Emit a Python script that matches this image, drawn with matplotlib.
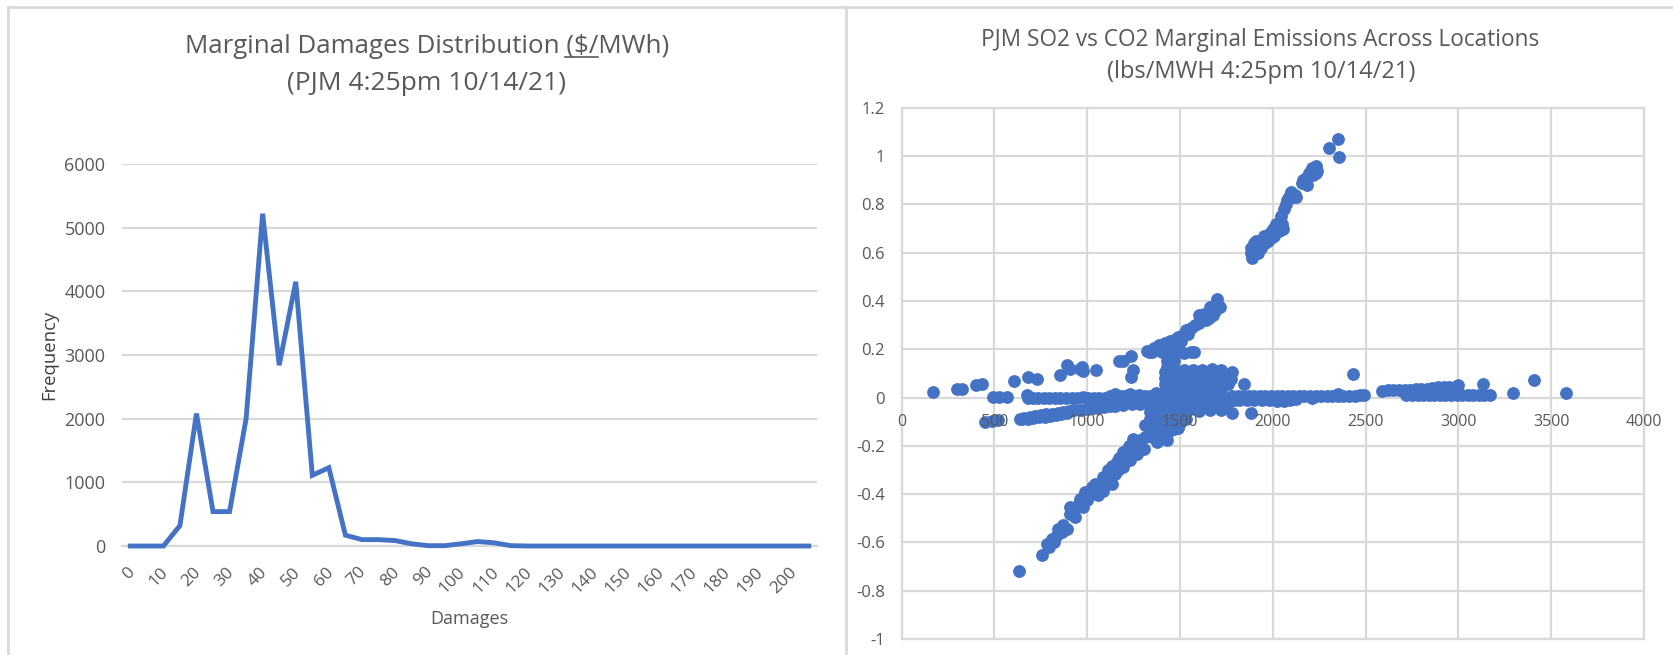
import matplotlib
matplotlib.use('Agg')
import matplotlib.pyplot as plt
from matplotlib.lines import Line2D
from matplotlib.transforms import ScaledTranslation

plt.rcParams['font.family'] = ['Open Sans', 'DejaVu Sans']

W, H = 1674, 655
BLUE = '#4472C4'
GRID = '#D9D9D9'
TXT = '#595959'

# left chart
damages = list(range(0, 210, 5))
frequency = [0, 0, 0, 320, 2080, 540, 540, 2000, 5220, 2840, 4150, 1110, 1230, 170,
             100, 100, 85, 35, 5, 5, 35, 70, 50, 5, 0, 0, 0, 0, 0, 0, 0, 0,
             0, 0, 0, 0, 0, 0, 0, 0, 0, 0]
freq_ticks = [0, 1000, 2000, 3000, 4000, 5000, 6000]

top_x = [2352, 2304, 2355, 2232, 2230, 2215, 2200, 2210, 2195, 2180, 2165, 2155, 2125, 2110, 2100, 2085,
         2075, 2060, 2045, 2030, 2035, 2020, 2000, 1985, 1965, 1960, 1940, 1935, 1920, 1920, 1900,
         1900, 1895, 1888, 1880, 1880, 2120, 2050, 1990, 1910, 2015, 2070, 2095, 1950, 1975, 2005, 2040,
         2055, 2240, 2185]
top_y = [1.07, 1.035, 0.997, 0.96, 0.93, 0.92, 0.93, 0.95, 0.93, 0.91, 0.90, 0.89, 0.83, 0.83, 0.85, 0.83,
         0.82, 0.78, 0.75, 0.72, 0.69, 0.70, 0.70, 0.68, 0.67, 0.64, 0.65, 0.62, 0.63, 0.60, 0.64,
         0.61, 0.59, 0.576, 0.60, 0.62, 0.84, 0.72, 0.66, 0.65, 0.72, 0.80, 0.84, 0.67, 0.65, 0.67, 0.71,
         0.70, 0.94, 0.88]

mid_x = [1701, 1716, 1690, 1670, 1690, 1650, 1630, 1616, 1640, 1600, 1580, 1560, 1530, 1515, 1490,
         1470, 1444, 1420, 1387, 1360, 1330, 1320, 1350, 1400, 1440, 1480, 1520, 1560, 1573, 1430,
         1450, 1470, 1430, 1460, 1700, 1660, 1545, 1505, 1680, 1655, 1625, 1600, 1460, 1490]
mid_y = [0.408, 0.374, 0.385, 0.36, 0.36, 0.35, 0.345, 0.33, 0.32, 0.31, 0.30, 0.29, 0.28, 0.26, 0.25,
         0.24, 0.235, 0.225, 0.218, 0.205, 0.19, 0.193, 0.19, 0.19, 0.185, 0.185, 0.185, 0.19, 0.187,
         0.15, 0.16, 0.15, 0.125, 0.125, 0.37, 0.375, 0.265, 0.235, 0.34, 0.33, 0.33, 0.34, 0.21, 0.22]

block_x = [1420, 1470, 1520, 1570, 1620, 1670, 1720, 1780, 1420, 1470, 1520, 1570, 1620, 1670, 1720,
           1775, 1420, 1470, 1520, 1570, 1620, 1670, 1720, 1760, 1420, 1470, 1520, 1570, 1620, 1670,
           1720, 1440, 1490, 1540, 1590, 1640, 1690, 1445, 1495, 1545, 1595, 1645, 1695, 1745, 1445, 1495,
           1545, 1595, 1645, 1695, 1745]
block_y = [0.106, 0.11, 0.115, 0.115, 0.115, 0.12, 0.115, 0.105, 0.08, 0.08, 0.08, 0.08, 0.08, 0.08,
           0.085, 0.075, 0.055, 0.055, 0.055, 0.055, 0.055, 0.055, 0.055, 0.055, 0.03, 0.03, 0.03,
           0.03, 0.03, 0.03, 0.03, 0.01, 0.01, 0.01, 0.01, 0.01, 0.01, 0.095, 0.095, 0.095, 0.095, 0.095,
           0.095, 0.095, 0.065, 0.065, 0.065, 0.065, 0.065, 0.065, 0.065]

band_left_x = [674, 680, 705, 735, 765, 795, 825, 855, 885, 915, 945, 975, 1005, 1035, 1065, 1095, 1125,
               1150, 1180, 1205, 1230, 1255, 1280, 1310, 1340, 1370, 1400, 1240, 1180, 1120, 1070, 1300]
band_left_y = [0.012, 0.0, 0.0, 0.0, 0.0, 0.0, 0.0, 0.0, 0.0, 0.0, 0.0, 0.002, 0.0, 0.0, 0.0, 0.0, 0.005,
               0.015, 0.008, 0.005, 0.015, 0.005, 0.012, 0.005, 0.008, 0.02, 0.0, -0.01, -0.01, -0.01,
               -0.012, -0.012]

band_low_x = [638, 660, 690, 720, 750, 780, 810, 840, 870, 900, 930, 965, 997, 1030, 1060, 1090, 1120,
              1150, 1190, 1240, 1285, 1330, 1380, 650, 680, 710, 740, 770, 800, 830, 860, 890]
band_low_y = [-0.088, -0.085, -0.08, -0.077, -0.074, -0.07, -0.067, -0.064, -0.06, -0.056, -0.053, -0.05,
              -0.046, -0.043, -0.042, -0.04, -0.037, -0.035, -0.03, -0.028, -0.025, -0.02, -0.02, -0.09,
              -0.088, -0.085, -0.082, -0.08, -0.078, -0.072, -0.068, -0.065]

band_right_x = [1780, 1810, 1840, 1870, 1900, 1930, 1960, 1990, 2020, 2050, 2080, 2110, 2140, 2170, 2200,
                2230, 2260, 2290, 2320, 2350, 2380, 2410, 2440, 2470, 2490, 1780, 1820, 1860, 1900, 1940,
                1980, 2020, 2060, 2090, 2125, 2210, 2350]
band_right_y = [0.005, 0.005, 0.005, 0.005, 0.005, 0.005, 0.005, 0.005, 0.005, 0.005, 0.005, 0.005, 0.005,
                0.005, 0.005, 0.005, 0.005, 0.005, 0.005, 0.008, 0.005, 0.005, 0.005, 0.01, 0.012, -0.012,
                -0.012, -0.012, -0.012, -0.012, -0.012, -0.014, -0.014, -0.01, -0.005, -0.003, 0.015]

far_x = [2590, 2620, 2650, 2680, 2710, 2740, 2770, 2800, 2830, 2860, 2890, 2920, 2950, 2980, 3000, 2720, 2750,
         2780, 2810, 2840, 2870, 2900, 2930, 2960, 2990, 3020, 3050, 3080, 3110, 3140, 3170, 2740, 2800,
         2860, 2920, 2980]
far_y = [0.028, 0.03, 0.03, 0.032, 0.032, 0.033, 0.035, 0.036, 0.036, 0.038, 0.042, 0.045, 0.045, 0.045,
         0.05, 0.012, 0.012, 0.012, 0.012, 0.012, 0.012, 0.012, 0.012, 0.012, 0.012, 0.012, 0.012, 0.012,
         0.012, 0.012, 0.012, 0.022, 0.024, 0.026, 0.03, 0.03]

core_x = [1330, 1380, 1430, 1480, 1530, 1580, 1630, 1680, 1730, 1330, 1380, 1430, 1480, 1530, 1570, 1650,
          1700, 1750, 1790, 1340, 1390, 1440, 1490, 1540, 1600, 1660, 1720, 1780, 1340, 1390, 1440, 1490,
          1530, 1340, 1390, 1440, 1490, 1380, 1430, 1470, 1560, 1620, 1690, 1750, 1355, 1405, 1455, 1505,
          1355, 1405, 1455, 1505, 1360, 1410, 1460, 1500]
core_y = [0.0, 0.0, 0.0, 0.0, 0.0, -0.005, 0.0, 0.0, 0.0, -0.03, -0.03, -0.03, -0.03, -0.03, -0.035, -0.02,
          -0.015, -0.012, -0.012, -0.06, -0.06, -0.06, -0.06, -0.055, -0.055, -0.05, -0.05, -0.062, -0.09,
          -0.09, -0.09, -0.09, -0.09, -0.12, -0.12, -0.12, -0.125, -0.15, -0.15, -0.13, -0.045, -0.04,
          -0.035, -0.03, -0.045, -0.045, -0.045, -0.045, -0.075, -0.075, -0.075, -0.075, -0.105, -0.105,
          -0.105, -0.105]

low_x = [632, 755, 781, 808, 835, 862, 889, 844, 871, 907, 934, 952, 979, 988, 1015, 1060, 1042, 1069, 1114,
         1132, 1114, 1150, 1195, 1159, 1195, 1231, 1267, 1249, 1303, 1312, 1374, 1428, 1356, 1312, 1410,
         1464, 1195, 1231, 1159, 1285, 1087, 1024, 961, 907, 1339, 1265, 1225, 1085, 1125, 1165, 1205,
         1240, 1275, 1350, 1390, 1000, 1040, 925, 820, 795, 1170, 1135]
low_y = [-0.718, -0.651, -0.605, -0.584, -0.571, -0.557, -0.543, -0.543, -0.529, -0.481, -0.495, -0.446,
         -0.453, -0.391, -0.405, -0.405, -0.357, -0.364, -0.336, -0.357, -0.301, -0.315, -0.288, -0.267,
         -0.226, -0.26, -0.232, -0.17, -0.212, -0.163, -0.184, -0.177, -0.136, -0.115, -0.136, -0.122,
         -0.246, -0.212, -0.288, -0.177, -0.329, -0.37, -0.419, -0.453, -0.16, -0.205, -0.2, -0.385, -0.32,
         -0.3, -0.265, -0.235, -0.195, -0.165, -0.155, -0.425, -0.385, -0.47, -0.6, -0.62, -0.25, -0.285]

stray_x = [170, 296, 323, 401, 435, 494, 526, 566, 449, 485, 521, 605, 681, 728, 852, 889, 907, 961, 979,
           972, 1046, 1170, 1191, 1234, 1249, 1234, 1842, 1881, 2431, 3132, 3292, 3407, 3580]
stray_y = [0.022, 0.034, 0.034, 0.05, 0.055, 0.001, 0.001, 0.001, -0.1, -0.098, -0.095, 0.068, 0.085, 0.078,
           0.095, 0.136, 0.117, 0.12, 0.11, 0.125, 0.113, 0.153, 0.153, 0.17, 0.113, 0.085, 0.058, -0.064,
           0.096, 0.058, 0.017, 0.073, 0.017]

co2_ticks = [0, 500, 1000, 1500, 2000, 2500, 3000, 3500, 4000]
so2_ticks = [-1, -0.8, -0.6, -0.4, -0.2, 0, 0.2, 0.4, 0.6, 0.8, 1, 1.2]
so2_labels = ['-1', '-0.8', '-0.6', '-0.4', '-0.2', '0', '0.2', '0.4', '0.6', '0.8', '1', '1.2']

fig = plt.figure(figsize=(W / 100, H / 100), dpi=100)


def box(l, r, t, b):
    return [l / W, 1 - b / H, (r - l) / W, (b - t) / H]


# panel borders
for xs, ys in [((8, 8), (7, 655)), ((8, 1674), (7, 7)), ((846, 846), (7, 655))]:
    fig.add_artist(Line2D([x / W for x in xs], [1 - y / H for y in ys], color=GRID, lw=2))

# left chart
ax = fig.add_axes(box(122, 817, 164, 546))
pos = list(range(len(damages)))
ax.plot(pos, frequency, color=BLUE, lw=3.5, solid_joinstyle='miter', clip_on=False, zorder=3)
ax.set_xlim(-0.5, len(damages) - 0.5)
ax.set_ylim(0, 6000)
ax.set_yticks(freq_ticks)
ax.set_xticks(pos[::2])
ax.set_xticklabels(damages[::2], rotation=45, ha='right', va='center', rotation_mode='anchor')
ax.tick_params(axis='x', length=0, pad=17, labelsize=12.5, labelcolor=TXT)
ax.tick_params(axis='y', length=0, pad=12, labelsize=13, labelcolor=TXT)
for lab in ax.get_xticklabels():
    lab.set_transform(lab.get_transform() + ScaledTranslation(0.02, 0, fig.dpi_scale_trans))
ax.grid(axis='y', color=GRID, lw=1.6)
ax.set_axisbelow(True)
for s in ax.spines.values():
    s.set_visible(False)
ax.spines['bottom'].set_visible(True)
ax.spines['bottom'].set_color(GRID)
ax.spines['bottom'].set_linewidth(1.6)

fig.text(427 / W, 1 - 53 / H, 'Marginal Damages Distribution ($/MWh)', fontsize=18.6, color=TXT, ha='center', va='baseline')
fig.text(427 / W, 1 - 90 / H, '(PJM 4:25pm 10/14/21)', fontsize=19, color=TXT, ha='center', va='baseline')
fig.add_artist(Line2D([565 / W, 598 / W], [1 - 57 / H, 1 - 57 / H], color=TXT, lw=1.2))
fig.text(49 / W, 1 - 355 / H, 'Frequency', fontsize=13.3, color='#404040', rotation=90, ha='center', va='center')
fig.text(469 / W, 1 - 619 / H, 'Damages', fontsize=13, color=TXT, ha='center', va='center')

# right chart
ax2 = fig.add_axes(box(901.7, 1644, 107.8, 639))
for xs, ys in [(top_x, top_y), (mid_x, mid_y), (block_x, block_y), (band_left_x, band_left_y),
               (band_low_x, band_low_y), (band_right_x, band_right_y), (far_x, far_y),
               (core_x, core_y), (low_x, low_y), (stray_x, stray_y)]:
    ax2.scatter(xs, ys, s=85, color=BLUE, linewidths=0, zorder=3)
ax2.set_xlim(0, 4000)
ax2.set_ylim(-1, 1.2)
ax2.set_xticks(co2_ticks)
ax2.set_yticks(so2_ticks)
ax2.set_yticklabels(so2_labels)
ax2.set_xticklabels([])
ax2.tick_params(length=0)
ax2.tick_params(axis='y', pad=12, labelsize=12, labelcolor=TXT)
ax2.grid(color=GRID, lw=1.6)
ax2.set_axisbelow(True)
for s in ax2.spines.values():
    s.set_color(GRID)
    s.set_linewidth(1.6)
for v in co2_ticks:
    ax2.annotate(str(v), (v, 0), xytext=(0, -12), textcoords='offset points', ha='center', va='top',
                 fontsize=11.5, color=TXT, zorder=5, annotation_clip=False)

fig.text(1260 / W, 1 - 46 / H, 'PJM SO2 vs CO2 Marginal Emissions Across Locations', fontsize=16.3, color=TXT, ha='center', va='baseline')
fig.text(1261 / W, 1 - 78 / H, '(lbs/MWH 4:25pm 10/14/21)', fontsize=17, color=TXT, ha='center', va='baseline')

fig.savefig('out.png', dpi=100)
